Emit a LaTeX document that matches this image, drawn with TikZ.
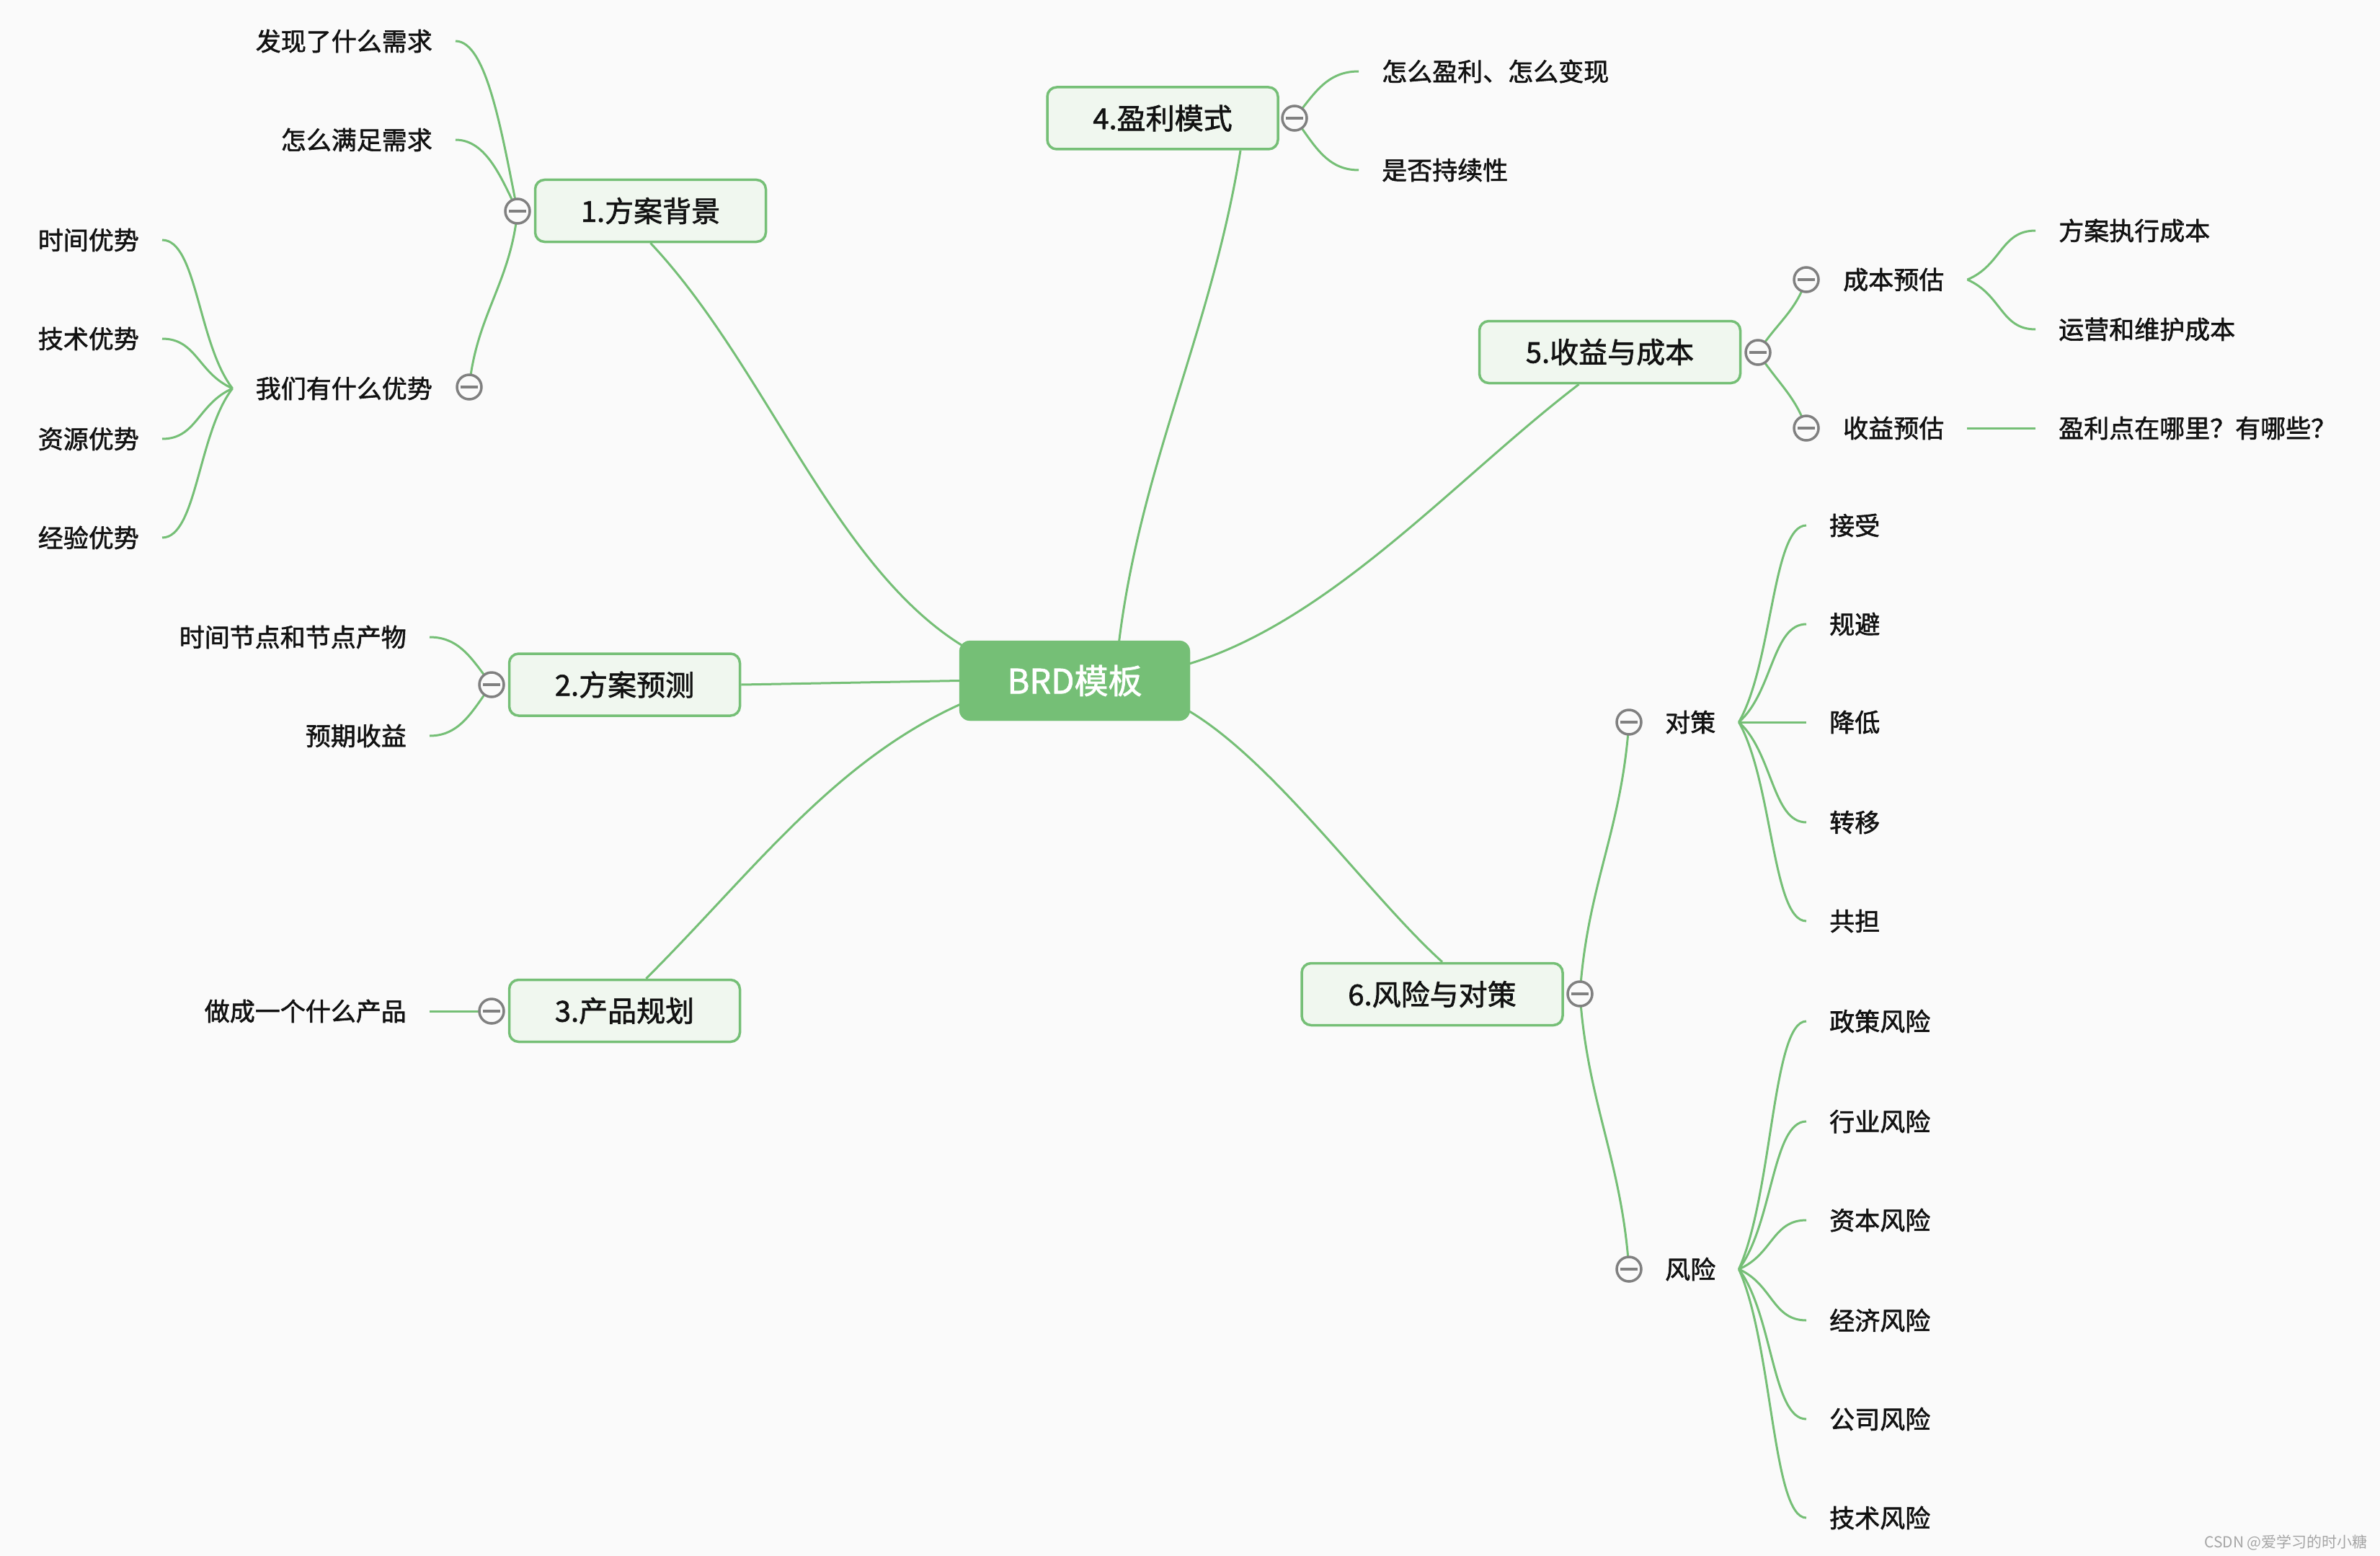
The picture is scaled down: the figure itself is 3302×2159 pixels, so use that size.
\documentclass[tikz,border=0pt]{standalone}
\usepackage{fontspec}
\setmainfont{Noto Sans CJK SC}[FakeBold=1.6]
\newfontfamily\wmfont{Noto Sans CJK SC}
\usetikzlibrary{calc}
\definecolor{bgc}{RGB}{250,250,250}
\definecolor{lg}{RGB}{117,191,118}
\definecolor{lfill}{RGB}{240,247,239}
\definecolor{tgray}{RGB}{128,128,128}
\definecolor{txt}{RGB}{18,18,18}
\definecolor{wm}{RGB}{165,165,165}
\pgfdeclarelayer{back}
\pgfdeclarelayer{links}
\pgfsetlayers{back,links,main}
\begin{document}
\begin{tikzpicture}[x=1pt,y=-1pt,
 link/.style={draw=lg, line width=3pt},
 central/.style={fill=lg, draw=lg, rounded corners=15pt, minimum width=320pt, minimum height=111pt, text=white, font=\fontsize{47}{56}\selectfont, inner sep=0pt},
 topic/.style={draw=lg, line width=3.5pt, fill=lfill, rounded corners=13pt, minimum height=86pt, text=txt, font=\fontsize{40}{48}\selectfont, inner sep=0pt},
 leaf/.style={text=txt, font=\fontsize{35}{42}\selectfont, inner xsep=32pt, inner ysep=4pt},
 toggle/.style={circle, draw=tgray, line width=3.5pt, fill=bgc, minimum size=34pt, inner sep=0pt,
   path picture={\draw[tgray, line width=3.5pt] ([xshift=-12pt]path picture bounding box.center) -- ([xshift=12pt]path picture bounding box.center);}},
 wmark/.style={text=wm, font=\wmfont\fontsize{21}{25}\selectfont, inner sep=0pt}
]
\begin{pgfonlayer}{back}
\fill[bgc] (0,0) rectangle (3302,2159);
\end{pgfonlayer}
\useasboundingbox (0,0) rectangle (3302,2159);

% central and main topics
\node[central] (c) at (1491,944.5) {BRD模板};
\node[topic, minimum width=320pt] (n1) at (902.5,292.5) {1.方案背景};
\node[topic, minimum width=320pt] (n2) at (866.5,950) {2.方案预测};
\node[topic, minimum width=320pt] (n3) at (866.5,1402.5) {3.产品规划};
\node[topic, minimum width=320pt] (n4) at (1613,164) {4.盈利模式};
\node[topic, minimum width=362pt] (n5) at (2233.5,488.5) {5.收益与成本};
\node[topic, minimum width=362pt] (n6) at (1987,1379.5) {6.风险与对策};

% toggles of main topics
\node[toggle] (t1) at (718,293) {};
\node[toggle] (t2) at (682,950) {};
\node[toggle] (t3) at (682,1403) {};
\node[toggle] (t4) at (1796,164) {};
\node[toggle] (t5) at (2439,489) {};
\node[toggle] (t6) at (2192,1379) {};

% branch 1
\node[leaf, anchor=east] (l11) at (632,57) {发现了什么需求};
\node[leaf, anchor=east] (l12) at (632,194) {怎么满足需求};
\node[leaf, anchor=east] (l13) at (632,539) {我们有什么优势};
\node[toggle] (t13) at (651,537) {};
\node[leaf, anchor=east] (l131) at (225,333) {时间优势};
\node[leaf, anchor=east] (l132) at (225,470) {技术优势};
\node[leaf, anchor=east] (l133) at (225,609) {资源优势};
\node[leaf, anchor=east] (l134) at (225,746) {经验优势};

% branch 2, 3
\node[leaf, anchor=east] (l21) at (596,884) {时间节点和节点产物};
\node[leaf, anchor=east] (l22) at (596,1021) {预期收益};
\node[leaf, anchor=east] (l31) at (596,1403) {做成一个什么产品};

% branch 4
\node[leaf, anchor=west] (l41) at (1885,99) {怎么盈利、怎么变现};
\node[leaf, anchor=west] (l42) at (1885,236) {是否持续性};

% branch 5
\node[toggle] (t51) at (2506,388) {};
\node[toggle] (t52) at (2506,594) {};
\node[leaf, anchor=west] (l51) at (2525,388) {成本预估};
\node[leaf, anchor=west] (l52) at (2525,594) {收益预估};
\node[leaf, anchor=west] (l511) at (2824,320) {方案执行成本};
\node[leaf, anchor=west] (l512) at (2824,457) {运营和维护成本};
\node[leaf, anchor=west] (l521) at (2824,594) {盈利点在哪里？有哪些？};

% branch 6
\node[toggle] (t61) at (2260,1002) {};
\node[toggle] (t62) at (2260,1761) {};
\node[leaf, anchor=west] (l61) at (2278,1002) {对策};
\node[leaf, anchor=west] (l62) at (2278,1761) {风险};
\node[leaf, anchor=west] (l611) at (2506,729) {接受};
\node[leaf, anchor=west] (l612) at (2506,866) {规避};
\node[leaf, anchor=west] (l613) at (2506,1002) {降低};
\node[leaf, anchor=west] (l614) at (2506,1141) {转移};
\node[leaf, anchor=west] (l615) at (2506,1278) {共担};
\node[leaf, anchor=west] (l621) at (2506,1417) {政策风险};
\node[leaf, anchor=west] (l622) at (2506,1556) {行业风险};
\node[leaf, anchor=west] (l623) at (2506,1693) {资本风险};
\node[leaf, anchor=west] (l624) at (2506,1832) {经济风险};
\node[leaf, anchor=west] (l625) at (2506,1969) {公司风险};
\node[leaf, anchor=west] (l626) at (2506,2106) {技术风险};

\node[wmark, anchor=east] (wmk) at (3285,2140) {CSDN @爱学习的时小糖};

\begin{pgfonlayer}{links}
% main branches
\draw[link] ($(c.north west)+(6,8)$) .. controls +(-180,-110) and +(160,170) .. (n1.south);
\draw[link] (c.west) -- (n2.east);
\draw[link] ($(c.south west)+(6,-25)$) .. controls +(-180,80) and +(150,-150) .. ($(n3.north)+(30,0)$);
\draw[link] ($(c.north)+(61,6)$) .. controls +(30,-250) and +(-40,250) .. ($(n4.south)+(108,0)$);
\draw[link] ($(c.north east)+(-4,33)$) .. controls +(200,-60) and +(-170,130) .. ($(n5.south)+(-43,0)$);
\draw[link] ($(c.south east)+(-4,-15)$) .. controls +(120,70) and +(-100,-90) .. ($(n6.north)+(14,0)$);

% branch 1
\draw[link] (t1.center) .. controls +(-22,-110) and +(43,0) .. (l11.east);
\draw[link] (t1.center) .. controls +(-22,-45) and +(43,0) .. (l12.east);
\draw[link] (t1.center) .. controls +(-10,100) and +(10,-100) .. (t13.center);
\draw[link] (l13.west) .. controls +(-48,-62) and +(48,0) .. (l131.east);
\draw[link] (l13.west) .. controls +(-48,-21) and +(48,0) .. (l132.east);
\draw[link] (l13.west) .. controls +(-48,21) and +(48,0) .. (l133.east);
\draw[link] (l13.west) .. controls +(-48,62) and +(48,0) .. (l134.east);

% branch 2, 3
\draw[link] (t2.center) .. controls +(-26,-33) and +(43,0) .. (l21.east);
\draw[link] (t2.center) .. controls +(-26,35) and +(43,0) .. (l22.east);
\draw[link] (t3.center) -- (l31.east);

% branch 4
\draw[link] (t4.center) .. controls +(27,-33) and +(-45,0) .. (l41.west);
\draw[link] (t4.center) .. controls +(27,36) and +(-45,0) .. (l42.west);

% branch 5
\draw[link] (t5.center) .. controls +(25,-40) and +(-15,45) .. (t51.center);
\draw[link] (t5.center) .. controls +(25,40) and +(-15,-45) .. (t52.center);
\draw[link] (l51.east) .. controls +(48,-20) and +(-48,0) .. (l511.west);
\draw[link] (l51.east) .. controls +(48,21) and +(-48,0) .. (l512.west);
\draw[link] (l52.east) -- (l521.west);

% branch 6
\draw[link] (t6.center) .. controls +(10,-150) and +(-10,150) .. (t61.center);
\draw[link] (t6.center) .. controls +(10,150) and +(-10,-150) .. (t62.center);
\draw[link] (l61.east) .. controls +(47,-82) and +(-47,0) .. (l611.west);
\draw[link] (l61.east) .. controls +(47,-41) and +(-47,0) .. (l612.west);
\draw[link] (l61.east) -- (l613.west);
\draw[link] (l61.east) .. controls +(47,42) and +(-47,0) .. (l614.west);
\draw[link] (l61.east) .. controls +(47,83) and +(-47,0) .. (l615.west);
\draw[link] (l62.east) .. controls +(47,-103) and +(-47,0) .. (l621.west);
\draw[link] (l62.east) .. controls +(47,-62) and +(-47,0) .. (l622.west);
\draw[link] (l62.east) .. controls +(47,-20) and +(-47,0) .. (l623.west);
\draw[link] (l62.east) .. controls +(47,21) and +(-47,0) .. (l624.west);
\draw[link] (l62.east) .. controls +(47,62) and +(-47,0) .. (l625.west);
\draw[link] (l62.east) .. controls +(47,104) and +(-47,0) .. (l626.west);
\end{pgfonlayer}
\end{tikzpicture}
\end{document}
